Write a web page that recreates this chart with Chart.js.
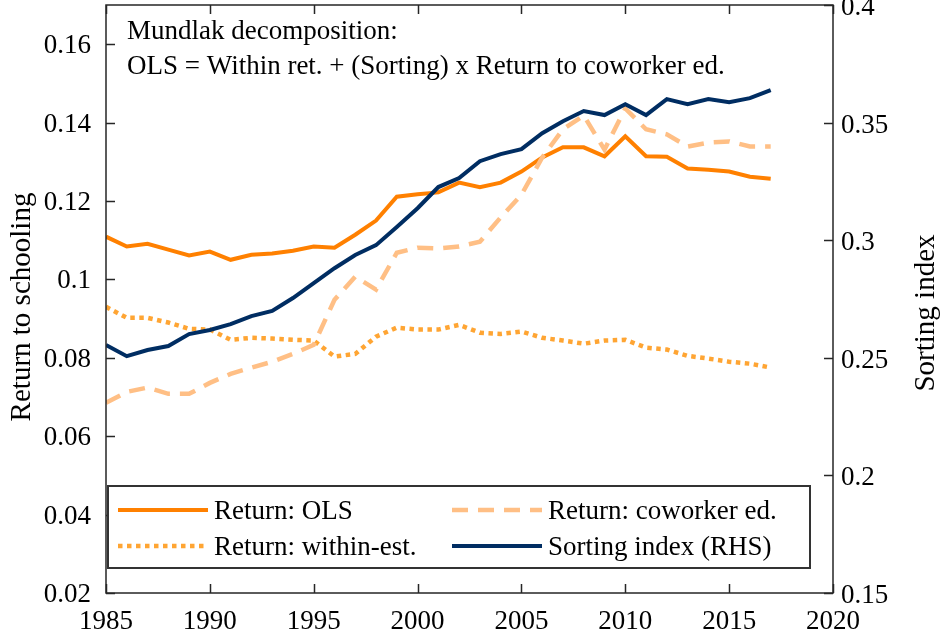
<!DOCTYPE html>
<html lang="en">
<head>
<meta charset="UTF-8">
<title>Mundlak decomposition</title>
<script src="https://cdn.jsdelivr.net/npm/chart.js"></script>
<style>
  body { margin: 0; background: #fff; }
  #wrap { width: 944px; height: 642px; position: relative; }
</style>
</head>
<body>
<div id="wrap"><canvas id="chart"></canvas></div>
<script>
// data
const years = [1985, 1986, 1987, 1988, 1989, 1990, 1991, 1992, 1993, 1994, 1995, 1996, 1997, 1998, 1999, 2000,
               2001, 2002, 2003, 2004, 2005, 2006, 2007, 2008, 2009, 2010, 2011, 2012, 2013, 2014, 2015, 2016, 2017];
const olsReturn = [0.1109, 0.1084, 0.1091, 0.1076, 0.1061, 0.1071, 0.1050, 0.1063, 0.1066, 0.1073, 0.1084, 0.1081,
                   0.1114, 0.1150, 0.1211, 0.1217, 0.1222, 0.1247, 0.1235, 0.1247, 0.1275, 0.1311, 0.1337, 0.1337,
                   0.1314, 0.1365, 0.1314, 0.1313, 0.1283, 0.1280, 0.1275, 0.1262, 0.1257];
const withinReturn = [0.0930, 0.0902, 0.0902, 0.0890, 0.0874, 0.0872, 0.0846, 0.0851, 0.0849, 0.0846, 0.0844, 0.0803,
                      0.0810, 0.0854, 0.0877, 0.0872, 0.0872, 0.0884, 0.0864, 0.0861, 0.0867, 0.0851, 0.0844, 0.0836,
                      0.0844, 0.0846, 0.0826, 0.0821, 0.0805, 0.0798, 0.0790, 0.0785, 0.0775];
const coworkerReturn = [0.0685, 0.0713, 0.0724, 0.0708, 0.0708, 0.0736, 0.0759, 0.0775, 0.0790, 0.0810, 0.0833, 0.0948,
                        0.1007, 0.0974, 0.1068, 0.1081, 0.1079, 0.1084, 0.1096, 0.1158, 0.1216, 0.1311, 0.1383, 0.1418,
                        0.1331, 0.1436, 0.1383, 0.1370, 0.1339, 0.1349, 0.1352, 0.1339, 0.1339];
const sortingIndex = [0.2554, 0.2507, 0.2533, 0.2550, 0.2601, 0.2618, 0.2643, 0.2677, 0.2699, 0.2754, 0.2818, 0.2881,
                      0.2937, 0.2979, 0.3056, 0.3136, 0.3226, 0.3264, 0.3336, 0.3366, 0.3387, 0.3455, 0.3506, 0.3549,
                      0.3532, 0.3578, 0.3532, 0.3600, 0.3578, 0.3600, 0.3587, 0.3604, 0.3638];

const xTicks = [1985, 1990, 1995, 2000, 2005, 2010, 2015, 2020];
const leftTicks = [0.02, 0.04, 0.06, 0.08, 0.1, 0.12, 0.14, 0.16];
const leftTickLabels = ['0.02', '0.04', '0.06', '0.08', '0.1', '0.12', '0.14', '0.16'];
const rightTicks = [0.15, 0.2, 0.25, 0.3, 0.35, 0.4];
const rightTickLabels = ['0.15', '0.2', '0.25', '0.3', '0.35', '0.4'];

const FONT = '"Liberation Serif", "Times New Roman", serif';
const C_OLS = '#ff8000';
const C_WITHIN = '#ffa533';
const C_COWORKER = '#ffbf85';
const C_SORT = '#002d62';

function pairs(vals) {
  return years.map((y, i) => ({ x: y, y: vals[i] }));
}

// frame, inward ticks, annotation, legend and axis titles
const decor = {
  id: 'decor',
  afterDatasetsDraw(chart) {
    const ctx = chart.ctx;
    const a = chart.chartArea;
    const xs = chart.scales.x, yl = chart.scales.y, yr = chart.scales.y1;
    const tl = 9;
    ctx.save();
    ctx.strokeStyle = '#262626';
    ctx.lineWidth = 1.5;
    ctx.strokeRect(a.left, a.top, a.right - a.left, a.bottom - a.top);
    ctx.beginPath();
    xTicks.forEach(v => {
      const px = Math.round(xs.getPixelForValue(v)) + 0.5;
      ctx.moveTo(px, a.bottom); ctx.lineTo(px, a.bottom - tl);
      ctx.moveTo(px, a.top); ctx.lineTo(px, a.top + tl);
    });
    leftTicks.forEach(v => {
      const py = Math.round(yl.getPixelForValue(v)) + 0.5;
      ctx.moveTo(a.left, py); ctx.lineTo(a.left + tl, py);
    });
    rightTicks.forEach(v => {
      const py = Math.round(yr.getPixelForValue(v)) + 0.5;
      ctx.moveTo(a.right, py); ctx.lineTo(a.right - tl, py);
    });
    ctx.stroke();

    // annotation
    ctx.fillStyle = '#000';
    ctx.font = '27px ' + FONT;
    ctx.textAlign = 'left';
    ctx.textBaseline = 'alphabetic';
    ctx.fillText('Mundlak decomposition:', 127, 39);
    ctx.fillText('OLS = Within ret. + (Sorting) x Return to coworker ed.', 127, 74);

    // legend box
    ctx.fillStyle = '#fff';
    ctx.fillRect(108, 486, 702, 82);
    ctx.strokeStyle = '#333';
    ctx.lineWidth = 2;
    ctx.strokeRect(108, 486, 702, 82);
    const items = [
      { ds: 0, x: 118, y: 510 },
      { ds: 2, x: 452, y: 510 },
      { ds: 1, x: 118, y: 546 },
      { ds: 3, x: 452, y: 546 }
    ];
    items.forEach(it => {
      const d = chart.data.datasets[it.ds];
      ctx.save();
      ctx.strokeStyle = d.borderColor;
      ctx.lineWidth = d.borderWidth;
      ctx.setLineDash(d.borderDash || []);
      ctx.beginPath();
      ctx.moveTo(it.x, it.y);
      ctx.lineTo(it.x + 90, it.y);
      ctx.stroke();
      ctx.restore();
      ctx.fillStyle = '#000';
      ctx.textBaseline = 'middle';
      ctx.fillText(d.label, it.x + 96, it.y + 2);
    });

    // axis titles
    ctx.font = '29px ' + FONT;
    ctx.textAlign = 'center';
    ctx.textBaseline = 'middle';
    ctx.save();
    ctx.translate(22, 307);
    ctx.rotate(-Math.PI / 2);
    ctx.fillText('Return to schooling', 0, 0);
    ctx.restore();
    ctx.save();
    ctx.translate(926, 313);
    ctx.rotate(-Math.PI / 2);
    ctx.fillText('Sorting index', 0, 0);
    ctx.restore();
    ctx.restore();
  }
};

// keep tick label overhang from shrinking the plot area
function noOverhang(s) {
  s.paddingTop = 0; s.paddingBottom = 0; s.paddingLeft = 0; s.paddingRight = 0;
}

const ctx = document.getElementById('chart').getContext('2d');
new Chart(ctx, {
  type: 'line',
  data: {
    datasets: [
      { label: 'Return: OLS', data: pairs(olsReturn), yAxisID: 'y', borderColor: C_OLS,
        borderWidth: 4, order: 3 },
      { label: 'Return: within-est.', data: pairs(withinReturn), yAxisID: 'y', borderColor: C_WITHIN,
        borderWidth: 4.5, borderDash: [4.5, 4.5], order: 2 },
      { label: 'Return: coworker ed.', data: pairs(coworkerReturn), yAxisID: 'y', borderColor: C_COWORKER,
        borderWidth: 4.5, borderDash: [16, 10], order: 1 },
      { label: 'Sorting index (RHS)', data: pairs(sortingIndex), yAxisID: 'y1', borderColor: C_SORT,
        borderWidth: 4, order: 0 }
    ]
  },
  options: {
    responsive: true,
    maintainAspectRatio: false,
    animation: false,
    layout: { padding: { top: 5, left: 0, right: 0, bottom: 0 } },
    elements: { point: { radius: 0 }, line: { tension: 0, fill: false } },
    plugins: { legend: { display: false }, tooltip: { enabled: false } },
    scales: {
      x: {
        type: 'linear', min: 1985, max: 2020,
        afterBuildTicks: s => { s.ticks = xTicks.map(v => ({ value: v })); },
        afterFit: s => { s.height = 49; noOverhang(s); },
        grid: { display: false, drawTicks: false },
        border: { display: false },
        ticks: { font: { family: FONT, size: 27 }, color: '#000', padding: 13, maxRotation: 0,
                 callback: v => String(v) }
      },
      y: {
        position: 'left', min: 0.02, max: 0.17,
        afterBuildTicks: s => { s.ticks = leftTicks.map(v => ({ value: v })); },
        afterFit: s => { s.width = 106; noOverhang(s); },
        grid: { display: false, drawTicks: false },
        border: { display: false },
        ticks: { font: { family: FONT, size: 27 }, color: '#000', padding: 15, labelOffset: 2,
                 callback: (v, i) => leftTickLabels[i] }
      },
      y1: {
        position: 'right', min: 0.15, max: 0.4,
        afterBuildTicks: s => { s.ticks = rightTicks.map(v => ({ value: v })); },
        afterFit: s => { s.width = 111; noOverhang(s); },
        grid: { display: false, drawTicks: false },
        border: { display: false },
        ticks: { font: { family: FONT, size: 27 }, color: '#000', padding: 8, labelOffset: 3,
                 callback: (v, i) => rightTickLabels[i] }
      }
    }
  },
  plugins: [decor]
});
</script>
</body>
</html>
